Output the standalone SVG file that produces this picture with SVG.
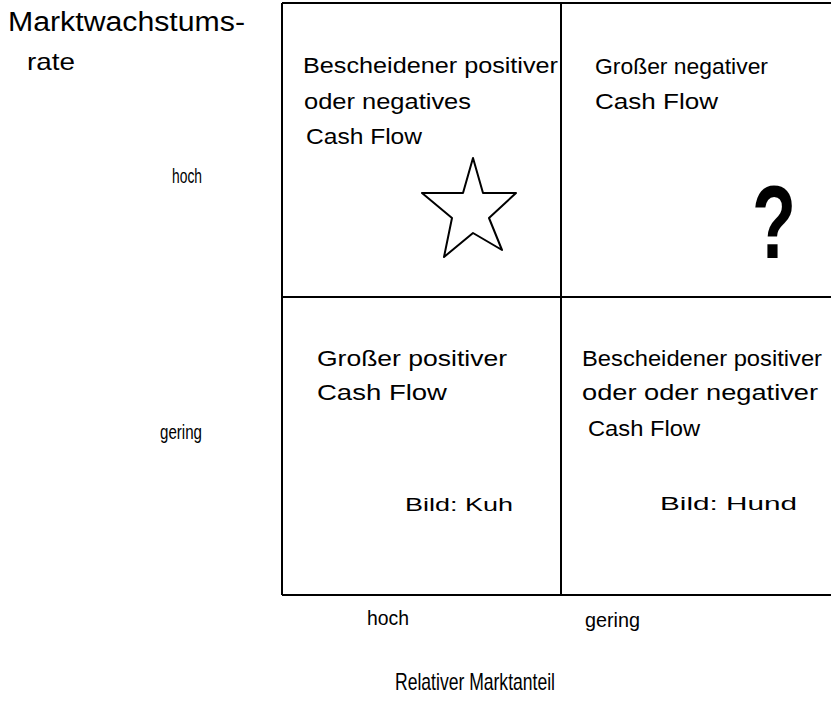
<svg xmlns="http://www.w3.org/2000/svg" width="831" height="706" viewBox="0 0 831 706">
<style>
.t{font-family:"Liberation Sans",Arial,sans-serif;fill:#000;}
.c{font-size:22px;}
.grid{stroke:#000;stroke-width:2;fill:none;}
</style>
<rect width="831" height="706" fill="#fff"/>
<g id="axes-labels">
<text class="t" x="8" y="31" font-size="27" textLength="237" lengthAdjust="spacingAndGlyphs">Marktwachstums-</text>
<text class="t" x="27" y="70" font-size="24" textLength="48" lengthAdjust="spacingAndGlyphs">rate</text>
<text class="t" x="172" y="183" font-size="20" textLength="30" lengthAdjust="spacingAndGlyphs">hoch</text>
<text class="t" x="160" y="439" font-size="20" textLength="42" lengthAdjust="spacingAndGlyphs">gering</text>
<text class="t" x="367" y="625" font-size="20" textLength="42" lengthAdjust="spacingAndGlyphs">hoch</text>
<text class="t" x="585" y="627" font-size="20" textLength="55" lengthAdjust="spacingAndGlyphs">gering</text>
<text class="t" x="395" y="690" font-size="24" textLength="160" lengthAdjust="spacingAndGlyphs">Relativer Marktanteil</text>
</g>
<g id="grid">
<line class="grid" x1="282" y1="3" x2="831" y2="3"/>
<line class="grid" x1="282" y1="297" x2="831" y2="297"/>
<line class="grid" x1="282" y1="595" x2="831" y2="595"/>
<line class="grid" x1="282" y1="3" x2="282" y2="595"/>
<line class="grid" x1="561" y1="3" x2="561" y2="595"/>
</g>
<g id="cell-star">
<text class="t c" x="303" y="73" textLength="255" lengthAdjust="spacingAndGlyphs">Bescheidener positiver</text>
<text class="t c" x="304" y="109" textLength="167" lengthAdjust="spacingAndGlyphs">oder negatives</text>
<text class="t c" x="306" y="144" textLength="116" lengthAdjust="spacingAndGlyphs">Cash Flow</text>
<polygon points="473,158 483,193 516,193 489,218 502,250 473,233 444,257 452,218 422,193 463,193" fill="none" stroke="#000" stroke-width="2" stroke-linejoin="round"/>
</g>
<g id="cell-question">
<text class="t c" x="595" y="74" textLength="173" lengthAdjust="spacingAndGlyphs">Großer negativer</text>
<text class="t c" x="595" y="109" textLength="123" lengthAdjust="spacingAndGlyphs">Cash Flow</text>
<text class="t" x="752" y="258" font-size="104" font-weight="bold" textLength="44" lengthAdjust="spacingAndGlyphs">?</text>
</g>
<g id="cell-cow">
<text class="t c" x="317" y="366" textLength="190" lengthAdjust="spacingAndGlyphs">Großer positiver</text>
<text class="t c" x="317" y="400" textLength="130" lengthAdjust="spacingAndGlyphs">Cash Flow</text>
<text class="t" x="405" y="511" font-size="19" textLength="108" lengthAdjust="spacingAndGlyphs">Bild: Kuh</text>
</g>
<g id="cell-dog">
<text class="t c" x="582" y="366" textLength="240" lengthAdjust="spacingAndGlyphs">Bescheidener positiver</text>
<text class="t c" x="582" y="400" textLength="236" lengthAdjust="spacingAndGlyphs">oder oder negativer</text>
<text class="t c" x="588" y="436" textLength="112" lengthAdjust="spacingAndGlyphs">Cash Flow</text>
<text class="t" x="660" y="510" font-size="19" textLength="137" lengthAdjust="spacingAndGlyphs">Bild: Hund</text>
</g>
</svg>
